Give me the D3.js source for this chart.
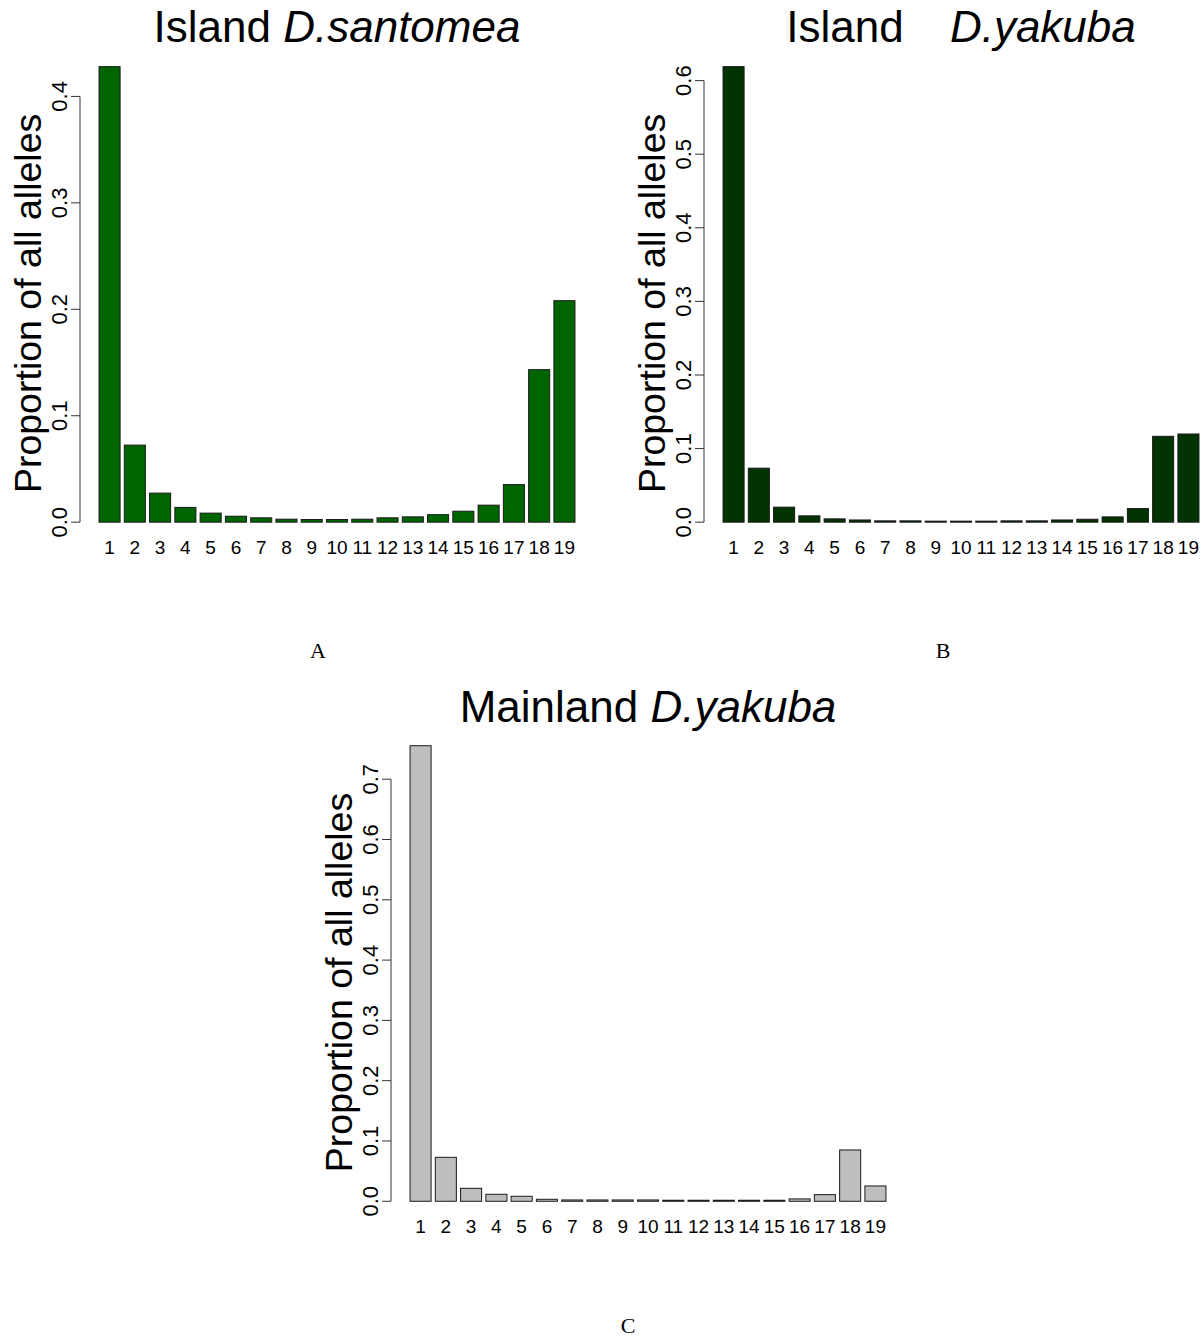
<!DOCTYPE html>
<html>
<head>
<meta charset="utf-8">
<script src="https://cdn.jsdelivr.net/npm/d3@7/dist/d3.min.js"></script>
<style>
    body { margin: 0; background: #ffffff; }
    svg { display: block; }
</style>
</head>
<body>
<svg id="canvas"></svg>
<script>
"use strict"

// Chart data
const categories = ["1", "2", "3", "4", "5", "6", "7", "8", "9", "10",
    "11", "12", "13", "14", "15", "16", "17", "18", "19"];
const santomeaValues = [0.428, 0.0724, 0.0273, 0.0139, 0.0085, 0.0056, 0.0041, 0.0028, 0.0025, 0.0025,
    0.0028, 0.0041, 0.0050, 0.0071, 0.0103, 0.0160, 0.0353, 0.1433, 0.2081];
const yakubaIslandValues = [0.619, 0.0734, 0.0204, 0.0086, 0.0045, 0.0030, 0.0018, 0.0018, 0.0014, 0.0014,
    0.0014, 0.0018, 0.0018, 0.0030, 0.0040, 0.0072, 0.0185, 0.1167, 0.1198];
const yakubaMainlandValues = [0.7555, 0.0729, 0.0215, 0.0116, 0.0083, 0.0033, 0.0022, 0.0022, 0.0022, 0.0022,
    0.0017, 0.0017, 0.0017, 0.0017, 0.0017, 0.0039, 0.0110, 0.0851, 0.0254];
const santomeaTicks = [0.0, 0.1, 0.2, 0.3, 0.4];
const yakubaIslandTicks = [0.0, 0.1, 0.2, 0.3, 0.4, 0.5, 0.6];
const yakubaMainlandTicks = [0.0, 0.1, 0.2, 0.3, 0.4, 0.5, 0.6, 0.7];

// Static layout values
const canvasWidth = 1202;
const canvasHeight = 1339;
const plotWidth = 514;
const plotHeight = 492;
const sansFont = "'Liberation Sans', Arial, Helvetica, sans-serif";
const serifFont = "'Liberation Serif', 'DejaVu Serif', serif";

const canvas = d3.select("#canvas")
    .attr("width", canvasWidth)
    .attr("height", canvasHeight);

// One entry per panel: where it sits and how it looks
const panels = [
    { values: santomeaValues, ticks: santomeaTicks, fill: "#006400",
      left: 80, top: 48.4, place: "Island", species: "D.santomea", gap: 0,
      letter: "A", letterX: 318, letterY: 658 },
    { values: yakubaIslandValues, ticks: yakubaIslandTicks, fill: "#023302",
      left: 704, top: 48.4, place: "Island", species: "D.yakuba", gap: 34,
      letter: "B", letterX: 943, letterY: 658 },
    { values: yakubaMainlandValues, ticks: yakubaMainlandTicks, fill: "#bebebe",
      left: 391, top: 727.5, place: "Mainland", species: "D.yakuba", gap: 0,
      letter: "C", letterX: 628, letterY: 1333 }
];

panels.forEach(drawPanel);

// Draw one barplot panel
function drawPanel(panel) {
    const bottom = panel.top + plotHeight;
    const maxValue = d3.max(panel.values);

    // R-style barplot: bar width 1, space 0.2, 4% axis extension
    const x = d3.scaleBand()
        .domain(categories)
        .range([panel.left, panel.left + plotWidth])
        .paddingInner(0.2 / 1.2)
        .paddingOuter(0.904 / 1.2);

    const y = d3.scaleLinear()
        .domain([-0.04 * maxValue, 1.04 * maxValue])
        .range([bottom, panel.top]);

    const g = canvas.append("g");

    // Bars
    g.selectAll("rect")
        .data(panel.values)
        .enter()
        .append("rect")
        .attr("x", (d, i) => x(categories[i]))
        .attr("y", d => y(d))
        .attr("width", x.bandwidth())
        .attr("height", d => y(0) - y(d))
        .attr("fill", panel.fill)
        .attr("stroke", "#1a1a1a")
        .attr("stroke-width", 1);

    // Y axis line, from first to last tick
    const ticks = panel.ticks;
    g.append("line")
        .attr("x1", panel.left)
        .attr("x2", panel.left)
        .attr("y1", y(ticks[0]))
        .attr("y2", y(ticks[ticks.length - 1]))
        .attr("stroke", "#333")
        .attr("stroke-width", 1);

    g.selectAll(".tick")
        .data(ticks)
        .enter()
        .append("line")
        .attr("class", "tick")
        .attr("x1", panel.left - 9)
        .attr("x2", panel.left)
        .attr("y1", d => y(d))
        .attr("y2", d => y(d))
        .attr("stroke", "#333")
        .attr("stroke-width", 1);

    g.selectAll(".tick-label")
        .data(ticks)
        .enter()
        .append("text")
        .attr("class", "tick-label")
        .text(d3.format(".1f"))
        .attr("transform", d => `translate(${panel.left - 21},${y(d)}) rotate(-90)`)
        .attr("text-anchor", "middle")
        .attr("dominant-baseline", "central")
        .attr("font-family", sansFont)
        .attr("font-size", 22)
        .attr("fill", "#000");

    // Category labels under the bars
    g.selectAll(".cat-label")
        .data(categories)
        .enter()
        .append("text")
        .attr("class", "cat-label")
        .text(d => d)
        .attr("x", d => x(d) + x.bandwidth() / 2)
        .attr("y", bottom + 13.5)
        .attr("text-anchor", "middle")
        .attr("font-family", sansFont)
        .attr("font-size", 19)
        .attr("fill", "#000");

    // Y axis title
    g.append("text")
        .text("Proportion of all alleles")
        .attr("transform", `translate(${panel.left - 52},${panel.top + plotHeight / 2 + 9}) rotate(-90)`)
        .attr("text-anchor", "middle")
        .attr("dominant-baseline", "central")
        .attr("font-family", sansFont)
        .attr("font-size", 37.5)
        .attr("fill", "#000");

    // Panel title with italic species name
    const title = g.append("text")
        .attr("x", panel.left + plotWidth / 2)
        .attr("y", panel.top - 6)
        .attr("text-anchor", "middle")
        .attr("font-family", sansFont)
        .attr("font-size", 44)
        .attr("fill", "#000");
    title.append("tspan").text(panel.place + " ");
    title.append("tspan")
        .attr("dx", panel.gap)
        .attr("font-style", "italic")
        .text(panel.species);

    // Panel letter below
    canvas.append("text")
        .text(panel.letter)
        .attr("x", panel.letterX)
        .attr("y", panel.letterY)
        .attr("text-anchor", "middle")
        .attr("font-family", serifFont)
        .attr("font-size", 22)
        .attr("fill", "#000");
}
</script>
</body>
</html>
